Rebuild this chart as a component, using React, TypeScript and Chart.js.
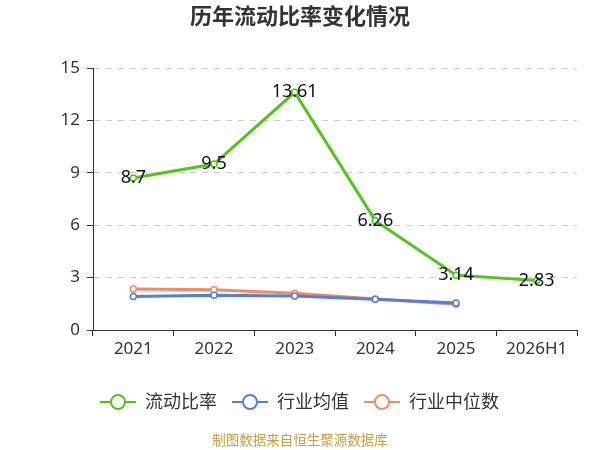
import React, { useEffect, useRef } from "react";
import { Chart, registerables } from "chart.js";

Chart.register(...registerables);

const categories = ["2021", "2022", "2023", "2024", "2025", "2026H1"];
const currentRatio = [8.7, 9.5, 13.61, 6.26, 3.14, 2.83];
const industryAvg = [1.92, 1.99, 1.95, 1.76, 1.55, null];
const industryMedian = [2.35, 2.31, 2.1, 1.77, 1.47, null];
const yTicks = [0, 3, 6, 9, 12, 15];
const seriesNames = ["流动比率", "行业均值", "行业中位数"];
const colors = ["#52c41a", "#4f80e0", "#f78a5c"];
const title = "历年流动比率变化情况";
const source = "制图数据来自恒生聚源数据库";

const FONT = "'Noto Sans', 'Noto Sans CJK SC', sans-serif";

const overlay = {
  id: "overlay",
  afterDatasetsDraw(chart: any) {
    const ctx = chart.ctx;
    const meta = chart.getDatasetMeta(0);
    ctx.save();
    ctx.font = `18px ${FONT}`;
    ctx.fillStyle = "#111";
    ctx.textAlign = "center";
    ctx.textBaseline = "middle";
    meta.data.forEach((pt: any, i: number) => {
      const v = currentRatio[i];
      ctx.fillText(String(v), pt.x, pt.y);
    });
    ctx.restore();
  },
  afterDraw(chart: any) {
    const ctx = chart.ctx;
    ctx.save();
    ctx.font = `bold 22px ${FONT}`;
    ctx.fillStyle = "#333";
    ctx.textAlign = "center";
    ctx.textBaseline = "middle";
    ctx.fillText(title, 300, 18);
    ctx.font = `18px ${FONT}`;
    const y = 402;
    const starts = [100, 232, 364];
    seriesNames.forEach((name, i) => {
      const x0 = starts[i];
      ctx.strokeStyle = colors[i];
      ctx.lineWidth = 2;
      ctx.beginPath();
      ctx.moveTo(x0, y);
      ctx.lineTo(x0 + 36, y);
      ctx.stroke();
      ctx.beginPath();
      ctx.arc(x0 + 18, y, 7, 0, Math.PI * 2);
      ctx.fillStyle = "#fff";
      ctx.fill();
      ctx.stroke();
      ctx.fillStyle = "#333";
      ctx.textAlign = "left";
      ctx.fillText(name, x0 + 45, y + 1);
    });
    ctx.font = `13.5px ${FONT}`;
    ctx.fillStyle = "#c9a040";
    ctx.textAlign = "center";
    ctx.fillText(source, 300, 441);
    ctx.restore();
  },
};

export default function App() {
  const ref = useRef<HTMLCanvasElement>(null);
  useEffect(() => {
    if (!ref.current) return;
    const mk = (label: string, data: any[], color: string, width: number) => ({
      label,
      data,
      borderColor: color,
      backgroundColor: "#fff",
      borderWidth: width,
      pointRadius: 3,
      pointHoverRadius: 3,
      pointBorderWidth: 1.5,
      pointBackgroundColor: "#fff",
      pointBorderColor: color,
      tension: 0,
      spanGaps: false,
    });
    const chart = new Chart(ref.current, {
      type: "line",
      data: {
        labels: categories,
        datasets: [
          mk(seriesNames[0], currentRatio, colors[0], 3),
          mk(seriesNames[1], industryAvg, colors[1], 3),
          mk(seriesNames[2], industryMedian, colors[2], 3),
        ],
      },
      options: {
        animation: false,
        responsive: false,
        devicePixelRatio: 1,
        layout: { padding: { left: 0, right: 23, top: 68, bottom: 0 } },
        plugins: {
          legend: { display: false },
          title: { display: false },
          tooltip: { enabled: false },
        },
        scales: {
          x: {
            offset: true,
            afterFit(scale: any) {
              scale.height = 120;
            },
            grid: {
              display: true,
              drawOnChartArea: false,
              offset: true,
              tickLength: 6,
              color: "#333",
              tickColor: "#333",
            },
            border: { display: true, color: "#333", width: 1 },
            ticks: {
              color: "#333",
              font: { size: 17, family: FONT },
              padding: 3,
            },
          },
          y: {
            min: 0,
            max: 15,
            afterFit(scale: any) {
              scale.width = 93;
            },
            afterBuildTicks(scale: any) {
              scale.ticks = yTicks.map((v) => ({ value: v }));
            },
            grid: {
              color: "#cccccc",
              tickColor: "#333",
              tickLength: 6,
              tickBorderDash: [],
              lineWidth: 1,
            } as any,
            border: { display: true, color: "#333", width: 1, dash: [6, 6] },
            ticks: {
              color: "#333",
              font: { size: 17, family: FONT },
              padding: 7,
            },
          },
        },
      } as any,
      plugins: [overlay],
    });
    return () => chart.destroy();
  }, []);
  return (
    <div style={{ position: "fixed", left: 0, top: 0, width: 600, height: 450, background: "#fff" }}>
      <canvas ref={ref} width={600} height={450} style={{ width: 600, height: 450 }} />
    </div>
  );
}
